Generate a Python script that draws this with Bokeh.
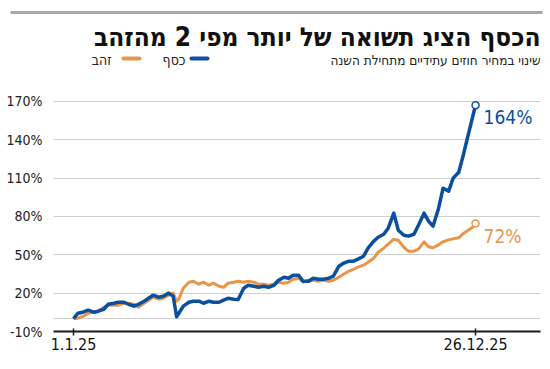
import pandas as pd
from bokeh.plotting import figure
from bokeh.layouts import column
from bokeh.models import FixedTicker, PrintfTickFormatter, Range1d
from bokeh.core.properties import value
from bokeh.embed import file_html
from bokeh.resources import INLINE

# ---------------- data ----------------
dates = [
    "2025-01-01", "2025-01-05", "2025-01-10", "2025-01-14", "2025-01-19", "2025-01-23", "2025-01-28",
    "2025-02-01", "2025-02-06", "2025-02-10", "2025-02-15", "2025-02-19", "2025-02-24", "2025-02-28",
    "2025-03-05", "2025-03-09", "2025-03-13", "2025-03-18", "2025-03-22", "2025-03-27", "2025-03-31",
    "2025-04-03", "2025-04-05", "2025-04-09", "2025-04-14", "2025-04-18", "2025-04-23", "2025-04-27",
    "2025-05-02", "2025-05-06", "2025-05-11", "2025-05-15", "2025-05-19", "2025-05-24", "2025-05-28",
    "2025-06-02", "2025-06-06", "2025-06-11", "2025-06-15", "2025-06-20", "2025-06-24", "2025-06-29",
    "2025-07-03", "2025-07-08", "2025-07-12", "2025-07-16", "2025-07-21", "2025-07-25", "2025-07-30",
    "2025-08-03", "2025-08-08", "2025-08-12", "2025-08-17", "2025-08-21", "2025-08-26", "2025-08-30",
    "2025-09-04", "2025-09-08", "2025-09-12", "2025-09-17", "2025-09-21", "2025-09-26", "2025-09-30",
    "2025-10-05", "2025-10-09", "2025-10-14", "2025-10-18", "2025-10-23", "2025-10-27",
    "2025-11-01", "2025-11-05", "2025-11-10", "2025-11-14", "2025-11-18", "2025-11-23", "2025-11-27",
    "2025-12-02", "2025-12-06", "2025-12-11", "2025-12-15", "2025-12-20", "2025-12-24", "2025-12-26",
]

silver = [
    0.0, 4.3, 5.3, 6.7, 5.1, 5.9, 7.4,
    11.3, 12.1, 12.9, 12.9, 11.3, 9.8, 11.3,
    13.7, 16.0, 18.4, 16.8, 17.6, 20.0, 17.6,
    1.5, 4.3, 9.8, 12.9, 13.7, 13.7, 12.1,
    13.7, 12.9, 12.9, 14.5, 16.0, 15.3, 15.0,
    23.9, 26.2, 25.4, 24.6, 25.4, 24.6, 26.2,
    30.1, 32.5, 31.7, 34.0, 34.0, 29.3, 29.3,
    31.7, 30.9, 30.9, 31.7, 33.3, 41.1, 43.4,
    45.0, 45.0, 46.6, 48.9, 55.2, 60.6, 63.8,
    66.1, 70.8, 82.6, 69.2, 65.3, 64.6,
    66.1, 73.2, 82.6, 76.3, 72.4, 86.5, 102.1,
    99.8, 110.0, 114.6, 127.9, 145.9, 160.0, 167.0,
]

gold = [
    0.0, 0.4, 2.0, 4.3, 5.1, 5.9, 9.0,
    10.6, 10.6, 10.6, 12.1, 12.1, 11.3, 9.0,
    12.1, 14.5, 16.8, 15.3, 16.0, 18.4, 20.0,
    13.7, 15.3, 23.9, 28.6, 29.3, 27.0, 28.6,
    26.2, 27.8, 25.4, 24.6, 27.8, 28.6, 29.3,
    28.6, 29.3, 28.6, 27.0, 27.0, 26.2, 27.0,
    28.6, 27.8, 28.6, 30.9, 31.7, 28.6, 30.1,
    30.1, 29.3, 30.1, 29.3, 30.1, 32.5, 34.8,
    37.2, 38.7, 40.3, 41.9, 44.2, 47.3, 52.0,
    55.2, 58.3, 62.2, 61.4, 55.9, 52.8,
    52.8, 54.4, 60.2, 56.3, 55.5, 57.8, 60.2,
    61.7, 62.5, 63.3, 66.5, 69.6, 72.0, 74.5,
]

title_text = "הכסף הציג תשואה של יותר מפי 2 מהזהב"
subtitle_text = "שינוי במחיר חוזים עתידיים מתחילת השנה"
series_names = ["כסף", "זהב"]          # silver, gold
end_labels = ["164%", "72%"]
x_tick_dates = ["2025-01-01", "2025-12-26"]
x_tick_labels = ["1.1.25", "26.12.25"]
y_ticks = [-10, 20, 50, 80, 110, 140, 170]
y_grid_ticks = [0, 20, 50, 80, 110, 140, 170]

# ---------------- style ----------------
BLUE = "#0b4f9d"
ORANGE = "#e8964c"
NARROW = "DejaVu Sans Condensed"
HEB = "DejaVu Sans Condensed"

start = pd.Timestamp(x_tick_dates[0])
xs = list((pd.to_datetime(dates) - start).days)
tick_x = list((pd.to_datetime(x_tick_dates) - start).days)

W = 550
LEFT, RIGHT = 53, 10

# ---------------- header (page-pixel coordinates) ----------------
HH = 80
hdr = figure(width=W, height=HH, x_range=Range1d(0, W), y_range=Range1d(HH, 0),
             output_backend="svg", toolbar_location=None,
             x_axis_location=None, y_axis_location=None,
             min_border=0, min_border_left=0, min_border_right=0,
             min_border_top=0, min_border_bottom=0)
hdr.frame_align = False
hdr.outline_line_color = None
hdr.xgrid.visible = False
hdr.ygrid.visible = False

hdr.segment(x0=[10], y0=[12], x1=[542], y1=[12], line_color="#a8a8a8", line_width=3)
hdr.text(x=[540], y=[36], text=[title_text], text_align="right", text_baseline="middle",
         text_font=value(HEB), text_font_style="bold", text_font_size="26px", text_color="#111111")
hdr.text(x=[540], y=[59], text=[subtitle_text], text_align="right", text_baseline="middle",
         text_font=value(NARROW), text_font_size="13.5px", text_color="#222222")
# legend
hdr.segment(x0=[191], y0=[58], x1=[207], y1=[58], line_color=BLUE, line_width=4, line_cap="round")
hdr.text(x=[185], y=[59], text=[series_names[0]], text_align="right", text_baseline="middle",
         text_font=value(NARROW), text_font_size="14px", text_color="#222222")
hdr.segment(x0=[123], y0=[58], x1=[139], y1=[58], line_color=ORANGE, line_width=4, line_cap="round")
hdr.text(x=[111], y=[59], text=[series_names[1]], text_align="right", text_baseline="middle",
         text_font=value(NARROW), text_font_size="14px", text_color="#222222")

# ---------------- main plot ----------------
p = figure(width=W, height=289, x_range=Range1d(-17.9, 417), y_range=Range1d(-10, 177),
           output_backend="svg", toolbar_location=None,
           min_border_left=LEFT, min_border_right=RIGHT, min_border_top=12, min_border_bottom=38)
p.frame_align = False
p.outline_line_color = None
p.xgrid.visible = False
p.ygrid.ticker = FixedTicker(ticks=y_grid_ticks)
p.ygrid.grid_line_color = "#cfcfcf"
p.ygrid.grid_line_width = 1

p.yaxis.ticker = FixedTicker(ticks=y_ticks)
p.yaxis.formatter = PrintfTickFormatter(format="%d%%")
p.yaxis.axis_line_color = None
p.yaxis.major_tick_line_color = None
p.yaxis.minor_tick_line_color = None
p.yaxis.major_tick_out = 0
p.yaxis.major_tick_in = 0
p.yaxis.major_label_standoff = 11
p.yaxis.major_label_text_font = NARROW
p.yaxis.major_label_text_font_size = "14px"
p.yaxis.major_label_text_color = "#222222"

p.xaxis.ticker = FixedTicker(ticks=tick_x)
p.xaxis.major_label_overrides = {int(t): lab for t, lab in zip(tick_x, x_tick_labels)}
p.xaxis.axis_line_color = "#1a1a1a"
p.xaxis.axis_line_width = 2
p.xaxis.major_tick_line_color = "#1a1a1a"
p.xaxis.major_tick_line_width = 1.5
p.xaxis.major_tick_in = 3
p.xaxis.major_tick_out = 4
p.xaxis.minor_tick_line_color = None
p.xaxis.major_label_standoff = 2
p.xaxis.major_label_text_font = NARROW
p.xaxis.major_label_text_font_size = "16px"
p.xaxis.major_label_text_color = "#111111"

p.line(xs, gold, line_color=ORANGE, line_width=3, line_join="round")
p.line(xs, silver, line_color=BLUE, line_width=3.5, line_join="round")

p.scatter(x=[xs[-1]], y=[silver[-1]], size=7, fill_color="white", line_color=BLUE, line_width=1.5)
p.scatter(x=[xs[-1]], y=[gold[-1]], size=7, fill_color="white", line_color=ORANGE, line_width=1.5)

p.text(x=[xs[-1]], y=[silver[-1]], text=[end_labels[0]], x_offset=8, y_offset=12,
       text_baseline="middle", text_align="left", text_font=value(NARROW),
       text_font_size="19px", text_color=BLUE)
p.text(x=[xs[-1]], y=[gold[-1]], text=[end_labels[1]], x_offset=8, y_offset=12,
       text_baseline="middle", text_align="left", text_font=value(NARROW),
       text_font_size="19px", text_color=ORANGE)

layout = column(hdr, p, spacing=0)
open("out.html", "w").write(file_html(layout, INLINE))
